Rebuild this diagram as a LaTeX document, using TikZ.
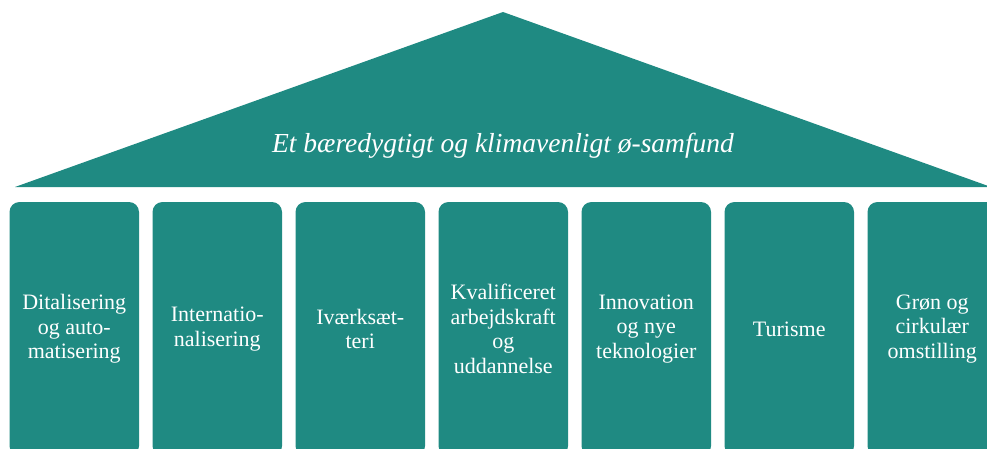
\documentclass[tikz,border=0pt]{standalone}
\usepackage{fontspec}
\setmainfont{Liberation Serif}
\usepackage{xcolor}
\usetikzlibrary{positioning}
\definecolor{tealroof}{RGB}{31,138,130}

\begin{document}
\begin{tikzpicture}[x=1pt,y=1pt]
\tikzset{pillar/.style={fill=tealroof,rounded corners=10pt,inner sep=0pt,minimum width=129.5pt,minimum height=254pt,text=white,align=center,font=\fontsize{22}{24.5}\selectfont},
roof/.style={fill=tealroof}}
\clip (0,0) rectangle (987,448);
% roof
\fill[roof] (15,261) -- (503,436) -- (991,261) -- cycle;
\node[text=white,anchor=base,font=\fontsize{27.5}{32}\selectfont\itshape] (title) at (503,296) {Et bæredygtigt og klimavenligt ø-samfund};
% pillars
\node[pillar] (dig) at (74.25,119) {Ditalisering\\og auto-\\matisering};
\node[pillar,right=13.1pt of dig] (intl) {Internatio-\\nalisering};
\node[pillar,right=13.1pt of intl] (ivaerk) {Iværksæt-\\teri};
\node[pillar,right=13.1pt of ivaerk] (kval) {Kvalificeret\\arbejdskraft\\og\\uddannelse};
\node[pillar,right=13.1pt of kval] (innov) {Innovation\\og nye\\teknologier};
\node[pillar,right=13.1pt of innov] (turisme) {Turisme};
\node[pillar,right=13.1pt of turisme] (groen) {Grøn og\\cirkulær\\omstilling};
\end{tikzpicture}
\end{document}
